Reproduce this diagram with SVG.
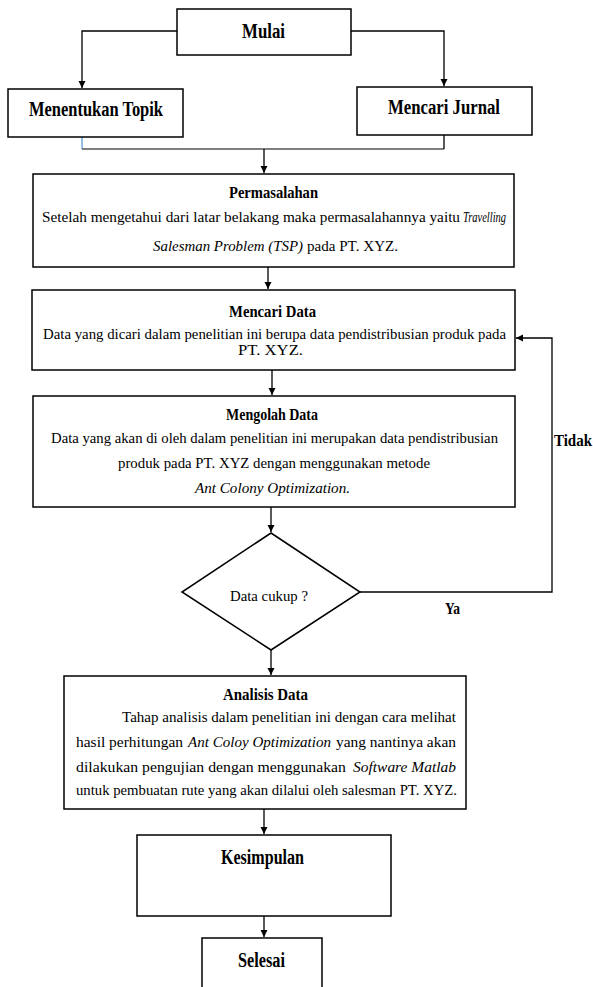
<svg xmlns="http://www.w3.org/2000/svg" width="593" height="987" viewBox="0 0 593 987">
<style>
.box{fill:#fff;stroke:#000;stroke-width:1.5}
.ln{fill:none;stroke:#000;stroke-width:1.3}
.t{font-family:"Liberation Serif","Times New Roman",serif;fill:#000}
.b{font-weight:bold}
.i{font-style:italic}
.h{font-size:20px}
.m{font-size:16px}
.s{font-size:15.5px}
</style>
<defs>
<marker id="ar" markerWidth="8" markerHeight="8" refX="7" refY="4" orient="auto" markerUnits="userSpaceOnUse">
<path d="M0,0.5 L7,4 L0,7.5 Z" fill="#000"/>
</marker>
</defs>
<g id="connectors">
<polyline class="ln" points="177,31 82,31 82,88" marker-end="url(#ar)"/>
<polyline class="ln" points="351,31 444,31 444,86" marker-end="url(#ar)"/>
<line x1="82" y1="137" x2="82" y2="149" stroke="#5b9bd5" stroke-width="1.3"/>
<line x1="82" y1="149" x2="444" y2="149" stroke="#555" stroke-width="1.5"/>
<line class="ln" x1="444" y1="135" x2="444" y2="149"/>
<line class="ln" x1="264" y1="149" x2="264" y2="173" marker-end="url(#ar)"/>
<line class="ln" x1="268" y1="267" x2="268" y2="289" marker-end="url(#ar)"/>
<line class="ln" x1="272" y1="370" x2="272" y2="395" marker-end="url(#ar)"/>
<line class="ln" x1="271" y1="507" x2="271" y2="532" marker-end="url(#ar)"/>
<polyline class="ln" points="360,592 552,592 552,338 516,338" marker-end="url(#ar)"/>
<line class="ln" x1="271" y1="650" x2="271" y2="675" marker-end="url(#ar)"/>
<line class="ln" x1="264" y1="809" x2="264" y2="834" marker-end="url(#ar)"/>
<line class="ln" x1="264" y1="916" x2="264" y2="937" marker-end="url(#ar)"/>
</g>
<g id="mulai">
<rect class="box" x="177" y="9" width="174" height="46"/>
<text class="t b h" x="242" y="38" textLength="43" lengthAdjust="spacingAndGlyphs">Mulai</text>
</g>
<g id="menentukan-topik">
<rect class="box" x="8" y="89" width="175" height="48"/>
<text class="t b h" x="29" y="116" textLength="134" lengthAdjust="spacingAndGlyphs">Menentukan Topik</text>
</g>
<g id="mencari-jurnal">
<rect class="box" x="357" y="87" width="175" height="48"/>
<text class="t b h" x="388" y="114" textLength="112" lengthAdjust="spacingAndGlyphs">Mencari Jurnal</text>
</g>
<g id="permasalahan">
<rect class="box" x="33" y="174" width="481" height="93"/>
<text class="t b m" x="229" y="198" textLength="89" lengthAdjust="spacingAndGlyphs">Permasalahan</text>
<text class="t s" x="42" y="222" textLength="418" lengthAdjust="spacingAndGlyphs">Setelah mengetahui dari latar belakang maka permasalahannya yaitu</text>
<text class="t s i" x="463" y="222" textLength="43" lengthAdjust="spacingAndGlyphs">Travelling</text>
<text class="t s i" x="153" y="251" textLength="150" lengthAdjust="spacingAndGlyphs">Salesman Problem (TSP)</text>
<text class="t s" x="307" y="251" textLength="91" lengthAdjust="spacingAndGlyphs">pada PT. XYZ.</text>
</g>
<g id="mencari-data">
<rect class="box" x="32" y="290" width="483" height="80"/>
<text class="t b m" x="229" y="317" textLength="87" lengthAdjust="spacingAndGlyphs">Mencari Data</text>
<text class="t s" x="43" y="339" textLength="463" lengthAdjust="spacingAndGlyphs">Data yang dicari dalam penelitian ini berupa data pendistribusian produk pada</text>
<text class="t s" x="238" y="355" textLength="65" lengthAdjust="spacingAndGlyphs">PT. XYZ.</text>
</g>
<g id="mengolah-data">
<rect class="box" x="33" y="396" width="482" height="111"/>
<text class="t b m" x="226" y="420" textLength="92" lengthAdjust="spacingAndGlyphs">Mengolah Data</text>
<text class="t s" x="51" y="443" textLength="447" lengthAdjust="spacingAndGlyphs">Data yang akan di oleh dalam penelitian ini merupakan data pendistribusian</text>
<text class="t s" x="118" y="468" textLength="312" lengthAdjust="spacingAndGlyphs">produk pada PT. XYZ dengan menggunakan metode</text>
<text class="t s i" x="195" y="493" textLength="155" lengthAdjust="spacingAndGlyphs">Ant Colony Optimization.</text>
</g>
<g id="data-cukup">
<polygon class="box" points="271,533 360,592 271,650 182,592"/>
<text class="t s" x="230" y="601" textLength="78" lengthAdjust="spacingAndGlyphs">Data cukup ?</text>
</g>
<g id="labels">
<text class="t b m" x="554" y="446" textLength="38" lengthAdjust="spacingAndGlyphs">Tidak</text>
<text class="t b m" x="445" y="614" textLength="15" lengthAdjust="spacingAndGlyphs">Ya</text>
</g>
<g id="analisis-data">
<rect class="box" x="64" y="676" width="402" height="133"/>
<text class="t b m" x="223" y="700" textLength="85" lengthAdjust="spacingAndGlyphs">Analisis Data</text>
<text class="t s" x="122" y="722" textLength="334" lengthAdjust="spacingAndGlyphs">Tahap analisis dalam penelitian ini dengan cara melihat</text>
<text class="t s" x="76" y="747" textLength="107" lengthAdjust="spacingAndGlyphs">hasil perhitungan</text>
<text class="t s i" x="188" y="747" textLength="143" lengthAdjust="spacingAndGlyphs">Ant Coloy Optimization</text>
<text class="t s" x="336" y="747" textLength="120" lengthAdjust="spacingAndGlyphs">yang nantinya akan</text>
<text class="t s" x="76" y="772" textLength="270" lengthAdjust="spacingAndGlyphs">dilakukan pengujian dengan menggunakan</text>
<text class="t s i" x="353" y="772" textLength="103" lengthAdjust="spacingAndGlyphs">Software Matlab</text>
<text class="t s" x="76" y="795" textLength="381" lengthAdjust="spacingAndGlyphs">untuk pembuatan rute yang akan dilalui oleh salesman PT. XYZ.</text>
</g>
<g id="kesimpulan">
<rect class="box" x="137" y="835" width="254" height="81"/>
<text class="t b h" x="221" y="864" textLength="83" lengthAdjust="spacingAndGlyphs">Kesimpulan</text>
</g>
<g id="selesai">
<rect class="box" x="202" y="938" width="120" height="60"/>
<text class="t b h" x="238" y="967" textLength="47" lengthAdjust="spacingAndGlyphs">Selesai</text>
</g>
</svg>
